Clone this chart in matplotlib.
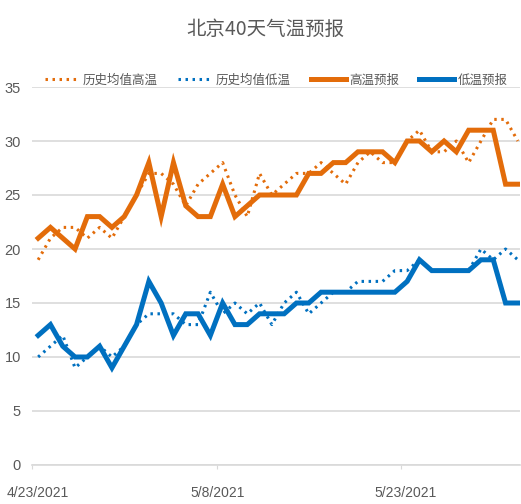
import matplotlib
matplotlib.use("Agg")
import matplotlib.pyplot as plt
import matplotlib.transforms as mtransforms
import numpy as np

dates = ["4/23/2021", "4/24/2021", "4/25/2021", "4/26/2021", "4/27/2021", "4/28/2021",
         "4/29/2021", "4/30/2021", "5/1/2021", "5/2/2021", "5/3/2021", "5/4/2021",
         "5/5/2021", "5/6/2021", "5/7/2021", "5/8/2021", "5/9/2021", "5/10/2021",
         "5/11/2021", "5/12/2021", "5/13/2021", "5/14/2021", "5/15/2021", "5/16/2021",
         "5/17/2021", "5/18/2021", "5/19/2021", "5/20/2021", "5/21/2021", "5/22/2021",
         "5/23/2021", "5/24/2021", "5/25/2021", "5/26/2021", "5/27/2021", "5/28/2021",
         "5/29/2021", "5/30/2021", "5/31/2021", "6/1/2021"]

hist_high = [19, 21, 22, 22, 21, 22, 21, 23, 25, 27, 27, 26, 24, 26, 27, 28, 25, 23, 27, 25,
             26, 27, 27, 28, 27, 26, 28, 29, 28, 28, 30, 31, 29, 29, 30, 28, 30, 32, 32, 30]
hist_low = [10, 11, 12, 9, 10, 11, 10, 11, 13, 14, 14, 14, 13, 13, 16, 14, 15, 14, 15, 13,
            15, 16, 14, 15, 16, 16, 17, 17, 17, 18, 18, 19, 18, 18, 18, 18, 20, 19, 20, 19]
fc_high = [21, 22, 21, 20, 23, 23, 22, 23, 25, 28, 23, 28, 24, 23, 23, 26, 23, 24, 25, 25,
           25, 25, 27, 27, 28, 28, 29, 29, 29, 28, 30, 30, 29, 30, 29, 31, 31, 31, 26, 26]
fc_low = [12, 13, 11, 10, 10, 11, 9, 11, 13, 17, 15, 12, 14, 14, 12, 15, 13, 13, 14, 14,
          14, 15, 15, 16, 16, 16, 16, 16, 16, 16, 17, 19, 18, 18, 18, 18, 19, 19, 15, 15]

tick_labels = ["4/23/2021", "5/8/2021", "5/23/2021"]
y_ticks = [0, 5, 10, 15, 20, 25, 30, 35]

series_names = ["历史均值高温", "历史均值低温", "高温预报", "低温预报"]

ORANGE = "#E36C0A"
BLUE = "#0070C0"
GRAY_TXT = "#595959"
GRID = "#D9D9D9"

cjk = ["Noto Sans CJK SC", "DejaVu Sans"]
narrow = ["Liberation Sans Narrow", "Liberation Sans", "DejaVu Sans"]

fig = plt.figure(figsize=(5.21, 5.04), dpi=100)
ax = fig.add_axes([32 / 521, 39 / 504, (520 - 32) / 521, (465 - 87) / 504])

x = np.arange(len(dates))
dot_style = dict(linestyle=(0, (0.8, 1.5)), linewidth=2.2, dash_capstyle="butt")
ax.plot(x, hist_high, color=ORANGE, label=series_names[0], **dot_style, zorder=3)
ax.plot(x, hist_low, color=BLUE, label=series_names[1], **dot_style, zorder=3)
ax.plot(x, fc_high, color=ORANGE, linewidth=3.6, label=series_names[2],
        solid_joinstyle="miter", zorder=4)
ax.plot(x, fc_low, color=BLUE, linewidth=3.6, label=series_names[3],
        solid_joinstyle="miter", zorder=4)

ax.set_xlim(-0.5, -0.5 + (520 - 32) / 12.3)
ax.set_ylim(0, 35)
ax.set_yticks(y_ticks)
ax.set_yticklabels([str(v) for v in y_ticks], family=narrow, fontsize=10.5, color=GRAY_TXT)
label_pos = [dates.index(t) - 0.5 for t in tick_labels]
ax.set_xticks(label_pos)
ax.set_xticklabels(tick_labels, family=narrow, fontsize=10, color=GRAY_TXT)
ax.tick_params(axis="y", length=0, pad=8)
ax.tick_params(axis="x", length=3, width=0.8, color=GRID, pad=12)

# small horizontal shifts of the date labels as in the reference
shifts_px = [5.5, 1, 5]
for lab, dx in zip(ax.get_xticklabels(), shifts_px):
    lab.set_transform(lab.get_transform() +
                      mtransforms.ScaledTranslation(dx / 100, 0, fig.dpi_scale_trans))

ax.grid(axis="y", color=GRID, linewidth=1.2)
ax.set_axisbelow(True)
for s in ["top", "right", "left"]:
    ax.spines[s].set_visible(False)
ax.spines["bottom"].set_color(GRID)
ax.spines["bottom"].set_linewidth(1.2)

leg = fig.legend(loc="center", bbox_to_anchor=(276 / 521, 1 - 80 / 504), ncol=4,
                 frameon=False, prop={"family": cjk, "size": 9},
                 handlelength=2.8, handletextpad=0.25, columnspacing=1.6,
                 borderaxespad=0)
for t in leg.get_texts():
    t.set_color(GRAY_TXT)

fig.text(265 / 521, 1 - 29 / 504, "北京40天气温预报", ha="center", va="center",
         family=cjk, fontsize=14, color=GRAY_TXT)

fig.savefig("out.png", dpi=100)
